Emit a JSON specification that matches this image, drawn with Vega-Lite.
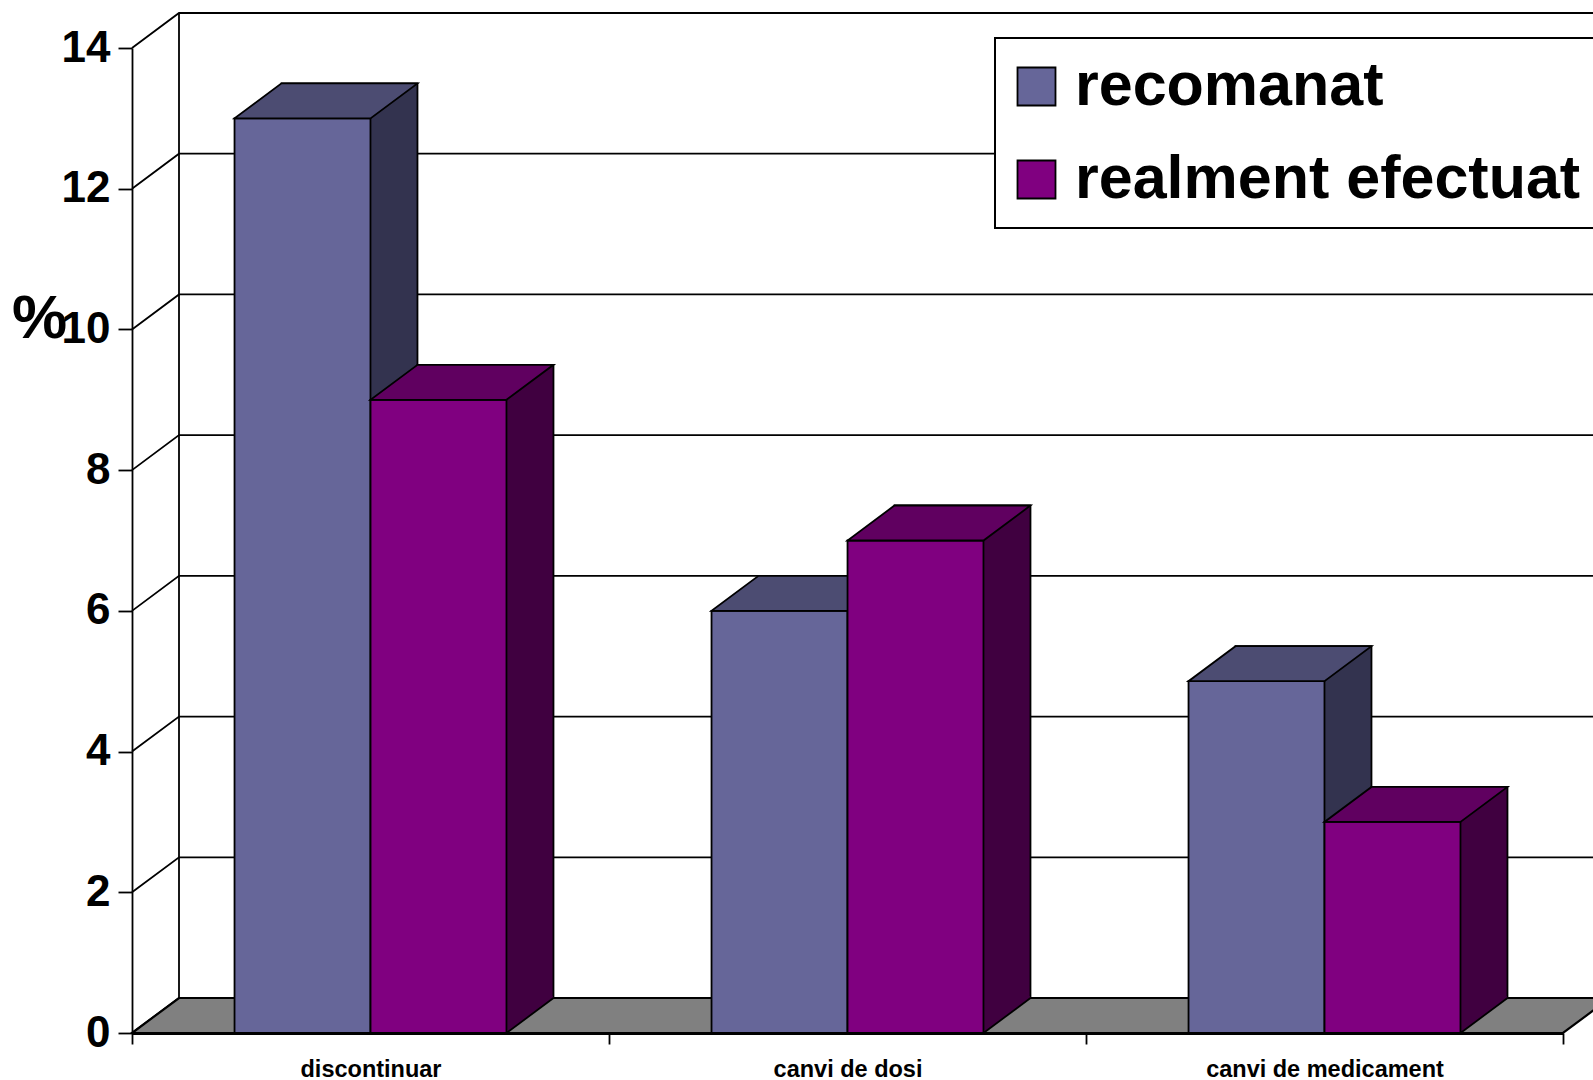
{
  "$schema": "https://vega.github.io/schema/vega-lite/v6.json",
  "width": 1431,
  "height": 985,
  "autosize": {"type": "none"},
  "padding": {"left": 132, "top": 48, "right": 30, "bottom": 47},
  "background": "white",
  "config": {
    "view": {"stroke": null},
    "font": "Liberation Sans",
    "axisY": {"tickCount": 7, "grid": false, "domain": true, "domainColor": "black", "domainWidth": 1.8, "ticks": true, "tickColor": "black", "tickWidth": 1.8, "tickSize": 14, "labelFont": "Liberation Sans", "labelFontSize": 44, "labelFontWeight": "bold", "labelColor": "black", "labelPadding": 8, "labelFlush": false, "labelOverlap": false, "titleAngle": 0, "titleFont": "Liberation Sans", "titleFontSize": 62, "titleFontWeight": "bold", "titleColor": "black", "titleX": -93, "titleY": 270, "titleAlign": "center", "titleBaseline": "middle", "zindex": 1},
    "axisX": {"tickBand": "extent", "grid": false, "domain": true, "domainColor": "black", "domainWidth": 2.8, "ticks": true, "tickColor": "black", "tickWidth": 1.8, "tickSize": 11, "labelFont": "Liberation Sans", "labelFontSize": 23.5, "labelFontWeight": "bold", "labelColor": "black", "labelPadding": 13, "labelAngle": 0, "labelLimit": 0, "zindex": 1},
    "legend": {"strokeWidth": 2}
  },
  "datasets": {
    "bars": [
      {"category": "discontinuar", "series": "recomanat", "value": 13},
      {"category": "discontinuar", "series": "realment efectuat", "value": 9},
      {"category": "canvi de dosi", "series": "recomanat", "value": 6},
      {"category": "canvi de dosi", "series": "realment efectuat", "value": 7},
      {"category": "canvi de medicament", "series": "recomanat", "value": 5},
      {"category": "canvi de medicament", "series": "realment efectuat", "value": 3}
    ],
    "gridTicks": [{"tick": 0}, {"tick": 2}, {"tick": 4}, {"tick": 6}, {"tick": 8}, {"tick": 10}, {"tick": 12}, {"tick": 14}]
  },
  "data": {"name": "bars"},
  "layer": [
    {
      "data": {"name": "gridTicks"},
      "mark": {"type": "point", "shape": "M-715.5,0L-668.5,-35L780,-35", "filled": false, "stroke": "black", "strokeWidth": 1.8, "size": 4, "opacity": 1},
      "encoding": {
        "y": {"field": "tick", "type": "quantitative", "title": "%", "scale": {"domain": [0, 14], "nice": false, "zero": true}}
      }
    },
    {
      "data": {"name": "gridTicks"},
      "transform": [{"filter": "datum.tick === 0"}],
      "mark": {"type": "point", "shape": "M-715.5,0L715.5,0L762.5,-35L-668.5,-35Z", "filled": true, "fill": "#808080", "stroke": "black", "strokeWidth": 2.2, "size": 4, "opacity": 1},
      "encoding": {"y": {"field": "tick", "type": "quantitative", "title": "%"}}
    },
    {
      "data": {"name": "gridTicks"},
      "transform": [{"filter": "datum.tick === 0"}],
      "mark": {"type": "point", "shape": "M-668.5,-35L-668.5,-1020", "filled": false, "stroke": "black", "strokeWidth": 1.8, "size": 4, "opacity": 1},
      "encoding": {"y": {"field": "tick", "type": "quantitative", "title": "%"}}
    },
    {
      "transform": [{"filter": {"field": "series", "equal": "recomanat"}}],
      "layer": [
        {
          "mark": {"type": "bar", "width": {"band": 0.285}, "fill": "#33334f", "stroke": "black", "strokeWidth": 1.8, "xOffset": -21, "yOffset": -35, "y2Offset": -35},
          "encoding": {
            "x": {"field": "category", "type": "nominal", "title": null, "scale": {"domain": ["discontinuar", "canvi de dosi", "canvi de medicament"], "paddingInner": 0, "paddingOuter": 0}},
            "y": {"field": "value", "type": "quantitative", "title": "%"},
            "y2": {"datum": 0}
          }
        },
        {
          "mark": {"type": "point", "shape": "M68,0L115,-35L114,-37L68,-37Z", "filled": true, "fill": "#33334f", "strokeWidth": 0, "size": 4, "opacity": 1, "xOffset": -68},
          "encoding": {
            "x": {"field": "category", "type": "nominal", "title": null},
            "y": {"datum": 0, "type": "quantitative"}
          }
        },
        {
          "mark": {"type": "point", "shape": "M68,0L115,-35", "filled": false, "stroke": "black", "strokeWidth": 1.8, "size": 4, "opacity": 1, "xOffset": -68},
          "encoding": {
            "x": {"field": "category", "type": "nominal", "title": null},
            "y": {"datum": 0, "type": "quantitative"}
          }
        },
        {
          "mark": {"type": "bar", "width": {"band": 0.285}, "stroke": "black", "strokeWidth": 1.8, "opacity": 1, "xOffset": -68},
          "encoding": {
            "x": {"field": "category", "type": "nominal", "title": null},
            "y": {"field": "value", "type": "quantitative", "title": "%"},
            "y2": {"datum": 0},
            "color": {"field": "series", "type": "nominal", "scale": {"domain": ["recomanat", "realment efectuat"], "range": ["#666699", "#800080"]},
              "legend": {"orient": "none", "legendX": 863, "legendY": -10, "title": null, "fillColor": "white", "strokeColor": "black", "padding": 18, "symbolType": "square", "symbolSize": 1444, "symbolStrokeColor": "black", "symbolStrokeWidth": 1.8, "symbolOpacity": 1, "symbolOffset": -7, "labelFont": "Liberation Sans", "labelFontSize": 61, "labelFontWeight": "bold", "labelColor": "black", "labelOffset": 8, "rowPadding": 31, "labelLimit": 0}}
          }
        },
        {
          "mark": {"type": "point", "shape": "M-68,0L68,0L115,-35L-21,-35Z", "filled": true, "fill": "#4c4c72", "stroke": "black", "strokeWidth": 1.8, "size": 4, "opacity": 1, "xOffset": -68},
          "encoding": {
            "x": {"field": "category", "type": "nominal", "title": null},
            "y": {"field": "value", "type": "quantitative", "title": "%"}
          }
        }
      ]
    },
    {
      "transform": [{"filter": {"field": "series", "equal": "realment efectuat"}}],
      "layer": [
        {
          "mark": {"type": "bar", "width": {"band": 0.285}, "fill": "#400040", "stroke": "black", "strokeWidth": 1.8, "xOffset": 115, "yOffset": -35, "y2Offset": -35},
          "encoding": {
            "x": {"field": "category", "type": "nominal", "title": null},
            "y": {"field": "value", "type": "quantitative", "title": "%"},
            "y2": {"datum": 0}
          }
        },
        {
          "mark": {"type": "point", "shape": "M68,0L115,-35L114,-37L68,-37Z", "filled": true, "fill": "#400040", "strokeWidth": 0, "size": 4, "opacity": 1, "xOffset": 68},
          "encoding": {
            "x": {"field": "category", "type": "nominal", "title": null},
            "y": {"datum": 0, "type": "quantitative"}
          }
        },
        {
          "mark": {"type": "point", "shape": "M68,0L115,-35", "filled": false, "stroke": "black", "strokeWidth": 1.8, "size": 4, "opacity": 1, "xOffset": 68},
          "encoding": {
            "x": {"field": "category", "type": "nominal", "title": null},
            "y": {"datum": 0, "type": "quantitative"}
          }
        },
        {
          "mark": {"type": "bar", "width": {"band": 0.285}, "stroke": "black", "strokeWidth": 1.8, "opacity": 1, "xOffset": 68},
          "encoding": {
            "x": {"field": "category", "type": "nominal", "title": null},
            "y": {"field": "value", "type": "quantitative", "title": "%"},
            "y2": {"datum": 0},
            "color": {"field": "series", "type": "nominal",
              "legend": {"orient": "none", "legendX": 863, "legendY": -10, "title": null, "fillColor": "white", "strokeColor": "black", "padding": 18, "symbolType": "square", "symbolSize": 1444, "symbolStrokeColor": "black", "symbolStrokeWidth": 1.8, "symbolOpacity": 1, "symbolOffset": -7, "labelFont": "Liberation Sans", "labelFontSize": 61, "labelFontWeight": "bold", "labelColor": "black", "labelOffset": 8, "rowPadding": 31, "labelLimit": 0}}
          }
        },
        {
          "mark": {"type": "point", "shape": "M-68,0L68,0L115,-35L-21,-35Z", "filled": true, "fill": "#600060", "stroke": "black", "strokeWidth": 1.8, "size": 4, "opacity": 1, "xOffset": 68},
          "encoding": {
            "x": {"field": "category", "type": "nominal", "title": null},
            "y": {"field": "value", "type": "quantitative", "title": "%"}
          }
        }
      ]
    }
  ]
}
